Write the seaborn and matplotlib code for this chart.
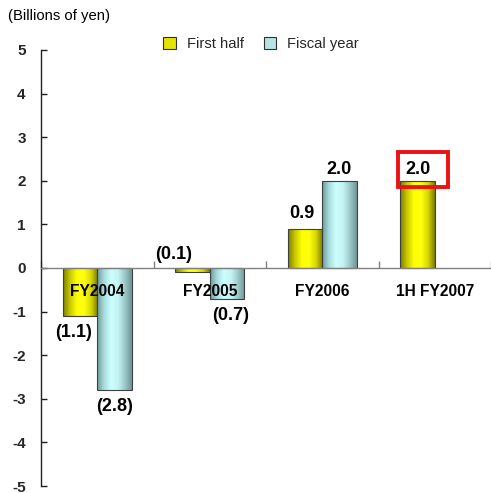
import numpy as np
import pandas as pd
import matplotlib
matplotlib.use("Agg")
import matplotlib.pyplot as plt
from matplotlib.colors import LinearSegmentedColormap
from matplotlib.patches import Rectangle, Patch
import seaborn as sns

# Operating results by period (billions of yen)
categories = ["FY2004", "FY2005", "FY2006", "1H FY2007"]
first_half = [-1.1, -0.1, 0.9, 2.0]
fiscal_year = [-2.8, -0.7, 2.0, np.nan]
series_names = ["First half", "Fiscal year"]
yticks = [5, 4, 3, 2, 1, 0, -1, -2, -3, -4, -5]

df = pd.DataFrame({
    "category": categories * 2,
    "series": [series_names[0]] * 4 + [series_names[1]] * 4,
    "value": first_half + fiscal_year,
})

sns.set_theme(style="white")
plt.rcParams["font.family"] = ["Liberation Sans", "DejaVu Sans"]

fig = plt.figure(figsize=(4.91, 4.93), dpi=100)
ax = fig.add_axes([41 / 491, 1 - 486 / 493, 450 / 491, 436 / 493])

base_colors = ["#ffff00", "#ccffff"]
palette = dict(zip(series_names, base_colors))
sns.barplot(data=df, x="category", y="value", hue="series", order=categories,
            hue_order=series_names, palette=palette, saturation=1, width=0.61,
            gap=0, edgecolor="#404040", linewidth=0.8, legend=False, ax=ax)

# Cylinder-style horizontal shading on each bar
cmaps = {
    "#ffff00": LinearSegmentedColormap.from_list(
        "yl", ["#7d7d00", "#c8c800", "#ffff00", "#ffff10", "#d8d800", "#7a7a00"]),
    "#ccffff": LinearSegmentedColormap.from_list(
        "cy", ["#6a9898", "#a8dcdc", "#ccffff", "#c4f4f4", "#9cc8c8", "#6e9494"]),
}
grad = np.linspace(0, 1, 256).reshape(1, -1)
for patch in list(ax.patches):
    h = patch.get_height()
    if np.isnan(h):
        continue
    fc = matplotlib.colors.to_hex(patch.get_facecolor())
    cmap = cmaps.get(fc)
    if cmap is None:
        continue
    x0 = patch.get_x()
    w = patch.get_width()
    y0 = patch.get_y()
    img = ax.imshow(grad, cmap=cmap, aspect="auto",
                    extent=[x0, x0 + w, min(y0, y0 + h), max(y0, y0 + h)],
                    zorder=patch.get_zorder() - 0.1, interpolation="bicubic")
    img.set_clip_path(patch)
    patch.set_facecolor("none")

ax.set_xlim(-0.5, 3.5)
ax.set_ylim(-5, 5)
ax.set_xlabel("")
ax.set_ylabel("")

# Axes styling
for side in ["top", "right"]:
    ax.spines[side].set_visible(False)
ax.spines["left"].set_color("#202020")
ax.spines["left"].set_linewidth(1.0)
ax.spines["bottom"].set_position(("data", 0))
ax.spines["bottom"].set_color("#808080")
ax.spines["bottom"].set_linewidth(1.0)

ax.set_yticks(yticks)
ax.set_yticklabels([str(t) for t in yticks], fontsize=11, fontweight="bold")
ax.tick_params(axis="y", direction="in", length=4, width=1, color="#202020",
               pad=11, left=True)
ax.set_xticks(np.arange(len(categories) + 1) - 0.5)
ax.set_xticklabels([])
ax.tick_params(axis="x", direction="in", length=5, width=1, color="#808080",
               bottom=True)

# Category names drawn inside the plot just below the zero line
for i, cat in enumerate(categories):
    ax.text(i, -0.54, cat, ha="center", va="center", fontsize=11.2,
            fontweight="bold", color="black", zorder=5)

# Value labels: negatives in parentheses
def fmt(v):
    return f"({abs(v):.1f})" if v < 0 else f"{v:.1f}"

offs = 0.305 / 2
label_dx = {(0, 0): -0.06, (1, 0): -0.17, (1, 1): 0.03, (2, 0): -0.03}
for j, vals in enumerate([first_half, fiscal_year]):
    for i, v in enumerate(vals):
        if np.isnan(v):
            continue
        x = i - offs if j == 0 else i + offs
        x += label_dx.get((i, j), 0)
        if v < 0:
            y = 0.30 if abs(v) < 0.3 else v - 0.38
        else:
            y = v + 0.34 if v < 1.5 else v + 0.25
        ax.text(x, y, fmt(v), ha="center", va="center", fontsize=13,
                fontweight="bold", color="black", zorder=6)

# Highlight box around the latest first-half result
ax.add_patch(Rectangle((2.673, 1.86), 0.445, 0.80, fill=False,
                       edgecolor="#ee1111", linewidth=2.8, zorder=7,
                       clip_on=False))

# Legend
handles = [Patch(facecolor="#e4e400", edgecolor="#303030", linewidth=0.8),
           Patch(facecolor="#b4e4e4", edgecolor="#303030", linewidth=0.8)]
fig.legend(handles, series_names, loc="center left",
           bbox_to_anchor=(153 / 491, 1 - 44 / 493), ncol=2, frameon=False,
           fontsize=10.6, handlelength=0.85, handleheight=0.85,
           handletextpad=0.75, columnspacing=1.35, borderpad=0.2)

fig.text(8 / 491, 1 - 16 / 493, "(Billions of yen)", ha="left", va="center",
         fontsize=10.7, color="black")

fig.savefig("out.png", dpi=100)
